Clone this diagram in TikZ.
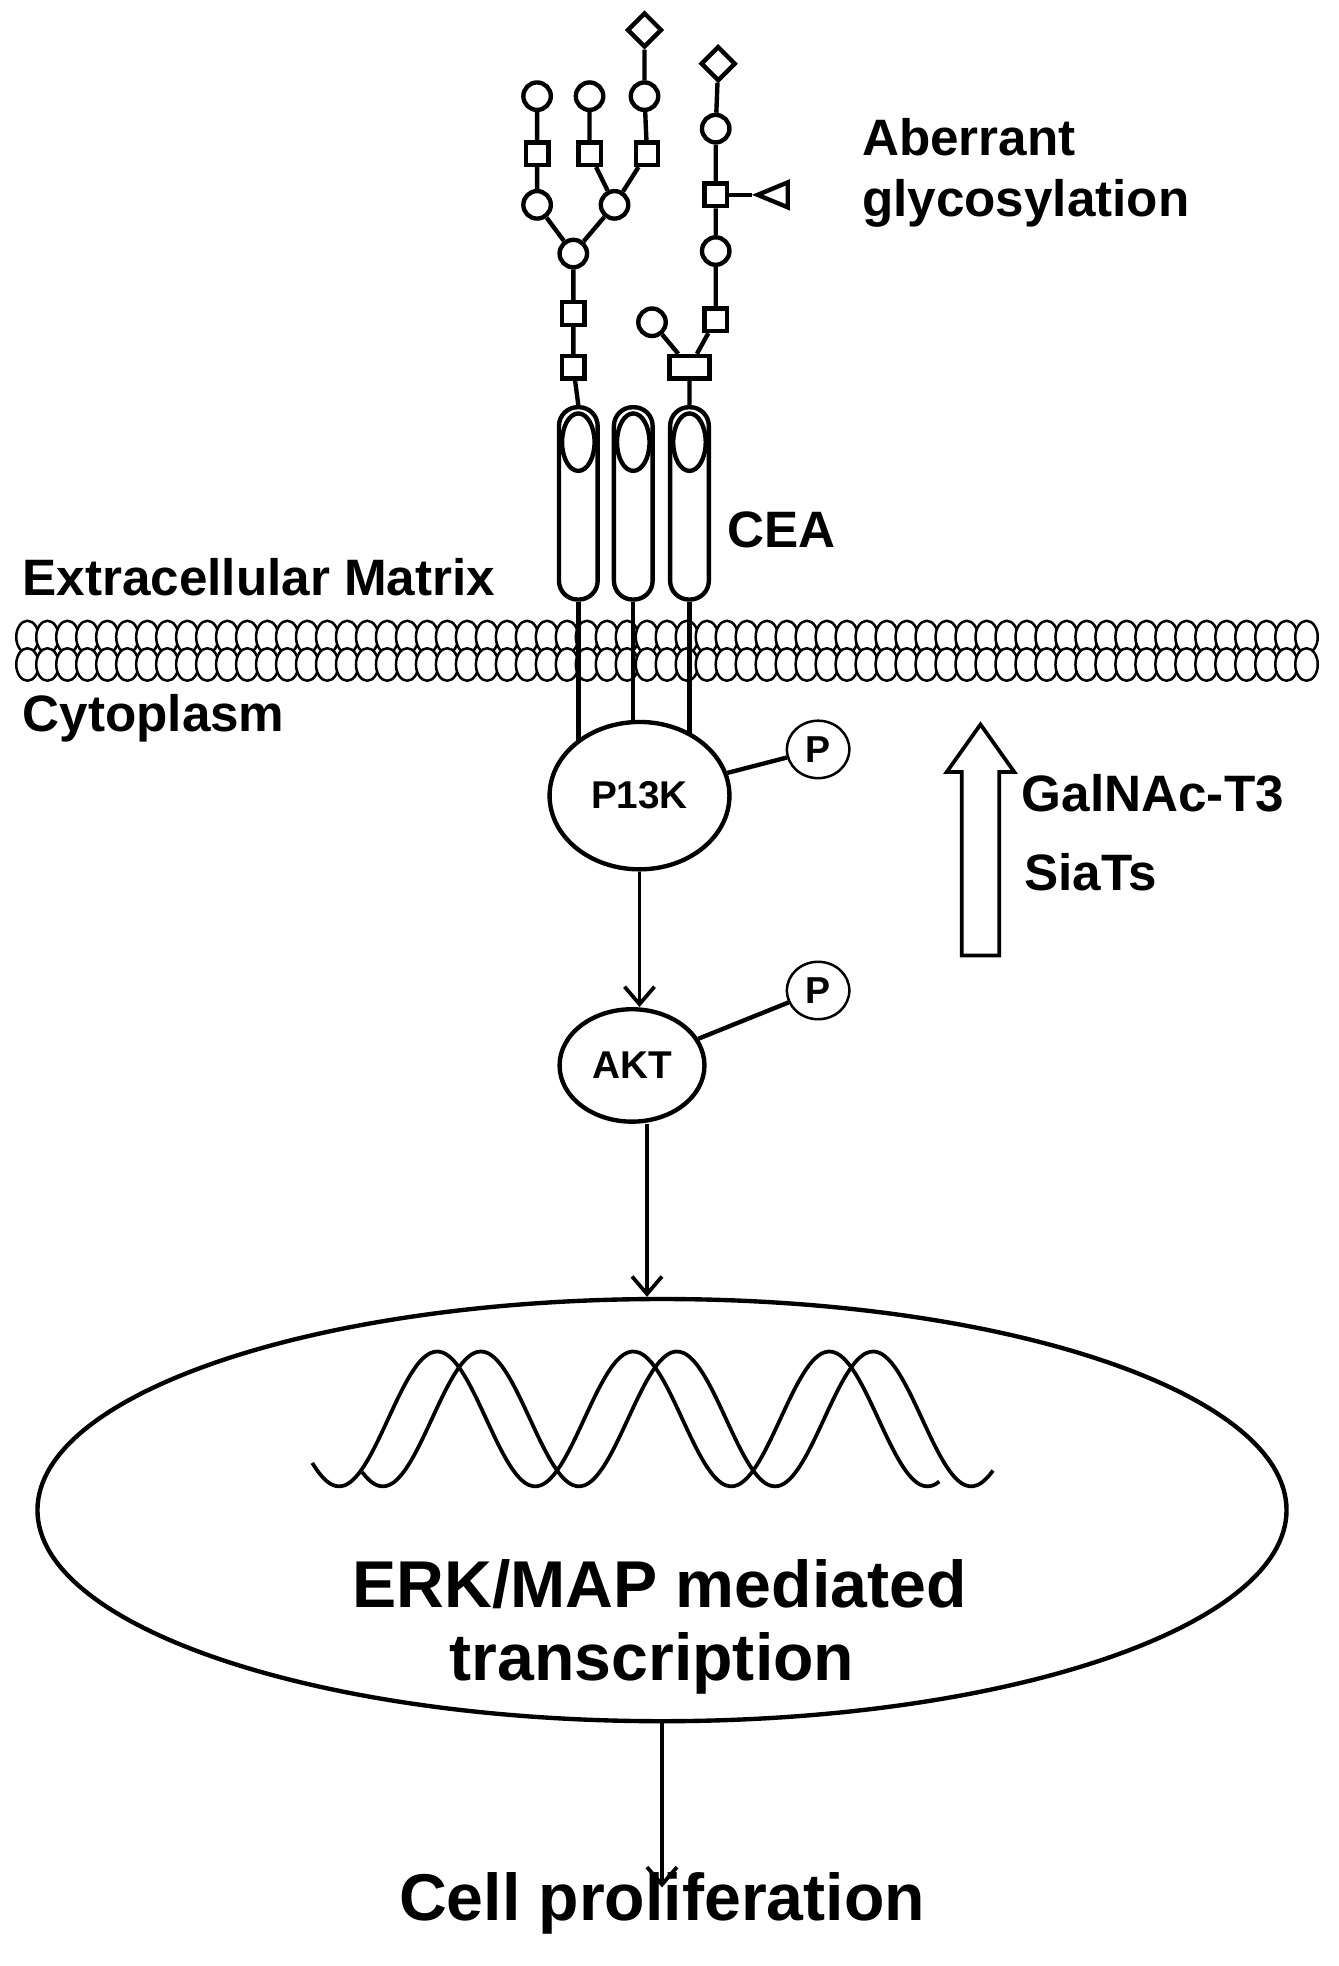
\documentclass[tikz,border=0pt]{standalone}
\usepackage{fontspec}
\setmainfont{Liberation Sans}
\usetikzlibrary{arrows.meta, shapes.geometric}
\pgfdeclarelayer{back}
\pgfdeclarelayer{background}
\pgfsetlayers{back,background,main}

\begin{document}
\begin{tikzpicture}
        [x=1pt, y=-1pt,
        lw/.style={line width=3.5pt},
        every node/.style={font=\bfseries},
        gc/.style={circle, draw, lw, fill=white, minimum size=22pt, inner sep=0pt},
        gs/.style={rectangle, draw, lw, fill=white, minimum size=18pt, inner sep=0pt},
        gd/.style={diamond, draw, lw, fill=white, minimum size=28pt, inner sep=0pt},
        cea/.style={rectangle, rounded corners=15pt, draw, lw, fill=white,
          minimum width=31pt, minimum height=154pt},
        ceatop/.style={ellipse, draw, lw, minimum width=26pt, minimum height=46pt},
        prot/.style={ellipse, draw, lw, fill=white, font=\fontsize{31}{31}\bfseries},
        phos/.style={ellipse, draw, fill=white, line width=2pt,
          minimum width=50pt, minimum height=46pt, font=\fontsize{30}{30}\bfseries},
        lbl/.style={font=\fontsize{41}{41}\bfseries, inner sep=0pt},
        big/.style={font=\fontsize{53}{53}\bfseries, inner sep=0pt},
        flow/.style={-{Straight Barb[length=14pt, width=24pt]}, line width=3pt}]

    \useasboundingbox (0,0) rectangle (1072,1574);

    % membrane
    \begin{pgfonlayer}{back}
    \foreach \x in {22,38,...,1054} {
      \draw[line width=2pt, fill=white] (\x,510) ellipse (9 and 13);
      \draw[line width=2pt, fill=white] (\x,532) ellipse (9 and 13);
    }
    \end{pgfonlayer}

    % CEA receptors
    \foreach \i/\x in {1/463, 2/507, 3/552} {
      \node[cea] (cea\i) at (\x,403) {};
      \node[ceatop] at (\x,354) {};
    }

    % glycans
    \node[gs] (a1) at (459,294) {};
    \node[gs] (a2) at (459,251) {};
    \node[gc] (a3) at (459,203) {};
    \node[gc] (b1) at (430,164) {};
    \node[gs] (b2) at (430,123) {};
    \node[gc] (b3) at (430,77) {};
    \node[gc] (c1) at (492,164) {};
    \node[gs] (c2) at (472,123) {};
    \node[gc] (c3) at (472,77) {};
    \node[gs] (d2) at (518,123) {};
    \node[gc] (d3) at (516,77) {};
    \node[gd] (d4) at (516,24) {};
    \node[gs, minimum width=32pt] (e1) at (552,294) {};
    \node[gc] (e2) at (522,258) {};
    \node[gs] (f1) at (573,256) {};
    \node[gc] (f2) at (573,201) {};
    \node[gs] (f3) at (573,156) {};
    \node[gc] (f4) at (573,103) {};
    \node[gd] (f5) at (575,51) {};
    \node[isosceles triangle, shape border rotate=180, draw, lw, fill=white,
      minimum height=20pt, minimum width=20pt, inner sep=0pt, anchor=apex]
      (tri) at (602,156) {};

    % signalling
    \node[prot, minimum width=144pt, minimum height=118pt] (pik) at (512,637) {P13K};
    \node[phos] (p1) at (655,600) {P};
    \node[prot, minimum width=116pt, minimum height=90pt] (akt) at (506,853) {AKT};
    \node[phos] (p2) at (655,793) {P};

    \begin{pgfonlayer}{background}
    \draw[lw] (cea1.north) -- (a1) -- (a2) -- (a3) -- (b1) -- (b2) -- (b3);
    \draw[lw] (a3) -- (c1) -- (c2) -- (c3);
    \draw[lw] (c1) -- (d2) -- (d3) -- (d4);
    \draw[lw] (cea3.north) -- (e1) -- (e2);
    \draw[lw] (e1) -- (f1) -- (f2) -- (f3) -- (f4) -- (f5);
    \draw[lw] (f3) -- (tri);
    \foreach \i in {1,2,3}
      \draw[lw] (cea\i.south) -- (cea\i.south |- pik.center);
    \draw[lw] (pik) -- (p1);
    \draw[lw] (akt) -- (p2);
    \end{pgfonlayer}

    \node[ellipse, draw, lw, minimum width=1000pt, minimum height=338pt] (nuc) at (530,1209) {};
    \draw[flow] (pik.south) -- (pik.south |- akt.north);
    \draw[flow] (akt.south -| 518,0) -- (518,0 |- nuc.north);

    % helix
    \draw[line width=3pt, domain=250:752, samples=160, smooth]
      plot (\x, {1136 - 54*cos(2.293*(\x-350))});
    \draw[line width=3pt, domain=290:795, samples=160, smooth]
      plot (\x, {1136 - 54*cos(2.293*(\x-385))});

    \node[big] (erk) at (528,1268) {ERK/MAP mediated};
    \node[big] (trx) at (522,1332) {transcription};
    \node[big] (cell) at (530,1524) {Cell proliferation};
    \draw[flow] (nuc.south -| cell.north) -- ([yshift=-12pt]cell.north);

    % hollow arrow
    \draw[line width=3pt, fill=white] (770,765) -- (800,765) -- (800,618) -- (812,618)
      -- (785,580) -- (758,618) -- (770,618) -- cycle;

    % labels
    \node[lbl, anchor=west] (aber) at (690,110) {Aberrant};
    \node[lbl, anchor=west] (glyc) at (690,163) {glycosylation};
    \node[lbl, anchor=west] (ceal) at (582,424) {CEA};
    \node[lbl, anchor=west] (ecm) at (18,462) {Extracellular Matrix};
    \node[lbl, anchor=west] (cyto) at (18,575) {Cytoplasm};
    \node[lbl, anchor=west] (galn) at (818,635) {GalNAc-T3};
    \node[lbl, anchor=west] (siat) at (820,698) {SiaTs};
\end{tikzpicture}
\end{document}
